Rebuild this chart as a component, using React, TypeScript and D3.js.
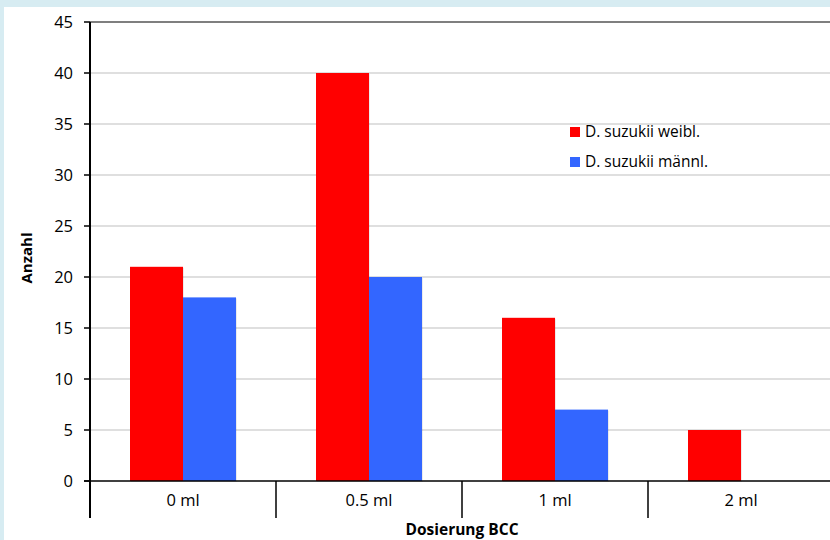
import React from "react";
import * as d3 from "d3";

const categories = ["0 ml", "0.5 ml", "1 ml", "2 ml"];
const seriesNames = ["D. suzukii weibl.", "D. suzukii männl."];
const female = [21, 40, 16, 5];
const male = [18, 20, 7, 0];
const yTicks = [0, 5, 10, 15, 20, 25, 30, 35, 40, 45];
const colors = ["#ff0000", "#3366ff"];

export default function App() {
  const W = 830, H = 540;
  const left = 90, right = 834, top = 22, bottom = 481;
  const x = d3.scaleBand<string>().domain(categories).range([left, right]).paddingInner(0).paddingOuter(0);
  const y = d3.scaleLinear().domain([0, 45]).range([bottom, top]);
  const bw = x.bandwidth();
  const barW = bw * (53 / 186);
  const gap = (bw - 2 * barW) / 2;
  const series = [female, male];
  const font = "'Open Sans', 'Liberation Sans', sans-serif";
  return (
    <svg width={W} height={H} style={{ position: "absolute", left: 0, top: 0 }} fontFamily={font}>
      <rect x={0} y={0} width={W} height={H} fill="#d7ecf2" />
      <rect x={4} y={7} width={W - 4} height={H - 7} fill="#ffffff" />
      {yTicks.filter(t => t > 0 && t < 45).map(t => (
        <line key={t} x1={left} x2={W} y1={y(t)} y2={y(t)} stroke="#bfbfbf" strokeWidth={1} />
      ))}
      <line x1={left} x2={W} y1={y(45)} y2={y(45)} stroke="#555" strokeWidth={1.5} />
      {series.map((vals, si) =>
        categories.map((c, i) => {
          const v = vals[i];
          if (v <= 0) return null;
          const bx = (x(c) as number) + gap + si * barW;
          return (
            <g key={c + si}>
              <rect x={bx + 1} y={y(v) + 1} width={barW} height={bottom - y(v)} fill="#000" opacity={0.08} />
              <rect x={bx} y={y(v)} width={barW} height={bottom - y(v)} fill={colors[si]} />
            </g>
          );
        })
      )}
      <line x1={left} x2={left} y1={top} y2={518} stroke="#000" strokeWidth={2} />
      <line x1={84} x2={W} y1={bottom} y2={bottom} stroke="#000" strokeWidth={1.5} />
      {yTicks.map(t => (
        <g key={t}>
          <line x1={84} x2={left} y1={y(t)} y2={y(t)} stroke="#000" strokeWidth={1.5} />
          <text x={73} y={y(t)} dy="0.35em" textAnchor="end" fontSize={16.5} fill="#000">{t}</text>
        </g>
      ))}
      {categories.map((c, i) => (
        <g key={c}>
          {i > 0 && <line x1={x(c) as number} x2={x(c) as number} y1={bottom} y2={518} stroke="#000" strokeWidth={1.5} />}
          <text x={(x(c) as number) + bw / 2} y={506} textAnchor="middle" fontSize={16.5} fill="#000">{c}</text>
        </g>
      ))}
      <text x={462} y={535} textAnchor="middle" fontSize={15.5} fontWeight="bold" fill="#000">Dosierung BCC</text>
      <text transform={`translate(32, 258) rotate(-90)`} textAnchor="middle" fontSize={15} fontWeight="bold" fill="#000">Anzahl</text>
      {seriesNames.map((n, i) => (
        <g key={n}>
          <rect x={570} y={127 + i * 30} width={10} height={10} fill={colors[i]} />
          <text x={585} y={132 + i * 30} dy="0.35em" fontSize={15.5} fill="#000">{n}</text>
        </g>
      ))}
    </svg>
  );
}
